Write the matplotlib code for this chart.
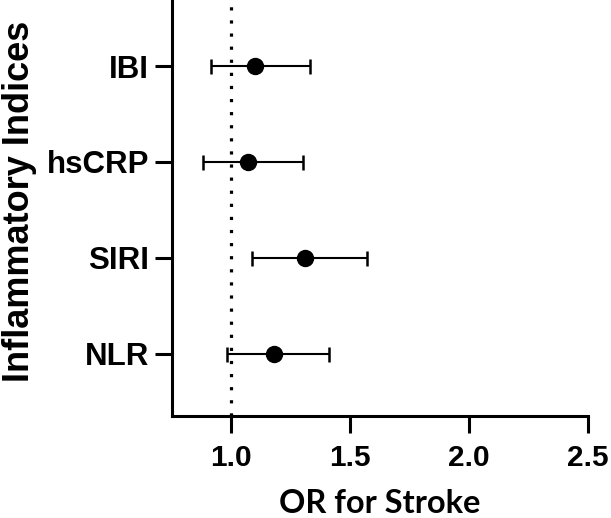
import matplotlib
matplotlib.use("Agg")
import matplotlib.pyplot as plt

# odds ratios with 95% CI, bottom to top
labels = ["NLR", "SIRI", "hsCRP", "IBI"]
or_vals = [1.18, 1.31, 1.07, 1.10]
ci_low = [0.98, 1.085, 0.88, 0.913]
ci_high = [1.41, 1.57, 1.30, 1.33]
xticks = [1.0, 1.5, 2.0, 2.5]

fig = plt.figure(figsize=(6.11, 5.18), dpi=100)
ax = fig.add_axes([172 / 611, 1 - 416 / 518, 416 / 611, 416 / 518])

ypos = list(range(1, len(labels) + 1))
err = [[o - l for o, l in zip(or_vals, ci_low)],
       [h - o for o, h in zip(or_vals, ci_high)]]

ax.axvline(1.0, color="black", lw=2.3, dashes=(1, 3.1), zorder=1)
ax.errorbar(or_vals, ypos, xerr=err, fmt="o", color="black", ms=11.5,
            elinewidth=1.5, capsize=5.4, capthick=1.8, zorder=3)

ax.set_xlim(0.75, 2.5)
ax.set_ylim(0.35, 4.69)
ax.set_xticks(xticks)
ax.set_xticklabels([f"{t:.1f}" for t in xticks])
ax.set_yticks(ypos)
ax.set_yticklabels(labels)

for s in ["top", "right"]:
    ax.spines[s].set_visible(False)
for s in ["left", "bottom"]:
    ax.spines[s].set_linewidth(2.2)

ax.tick_params(axis="both", width=2.2, length=12.5, direction="out")
ax.tick_params(axis="x", pad=8)
ax.tick_params(axis="y", pad=4)
for t in ax.get_xticklabels():
    t.set_fontfamily("Liberation Sans")
    t.set_fontweight("bold")
    t.set_fontsize(21.5)
for t in ax.get_yticklabels():
    t.set_fontfamily("Liberation Sans")
    t.set_fontweight("bold")
    t.set_fontsize(22.5)

ax.set_xlabel("OR for Stroke", fontfamily="Lato", fontweight="bold",
              fontsize=23.5, labelpad=12)
ax.set_ylabel("Inflammatory Indices", fontfamily="Liberation Sans",
              fontweight="bold", fontsize=26, labelpad=7)
ax.yaxis.label.set_y(0.517)

fig.savefig("out.png", dpi=100)
